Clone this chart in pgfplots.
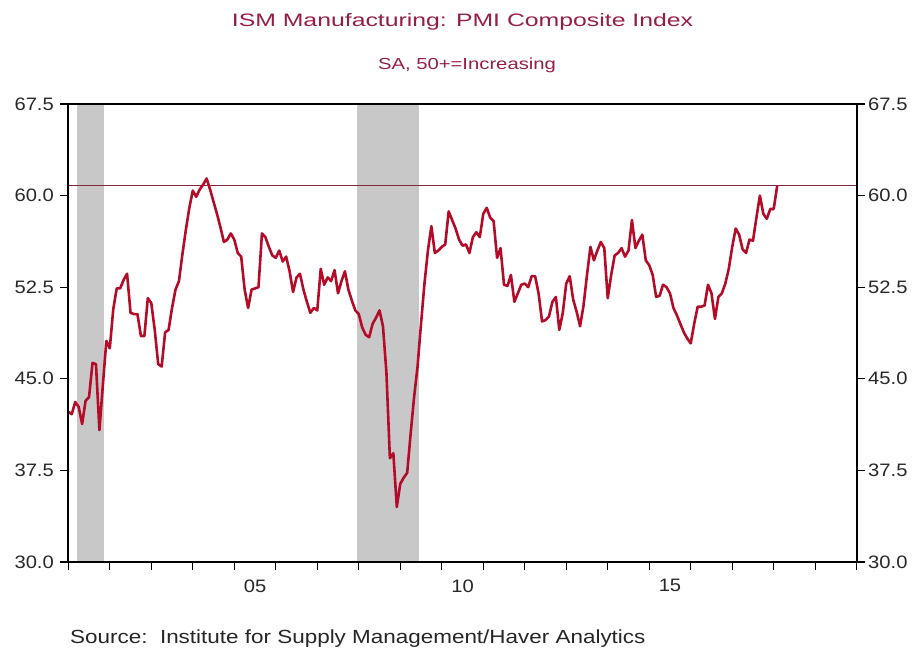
\documentclass[border=0pt]{standalone}
\usepackage{pgfplots}
\pgfplotsset{compat=1.18}
\usepackage{pgfplotstable}
\usepackage{graphicx}
\usepackage{fontspec}
\setmainfont{Liberation Sans}[FakeStretch=1.12]
\definecolor{titlered}{RGB}{150,30,70}
\definecolor{linered}{RGB}{180,12,40}
\definecolor{refline}{RGB}{130,40,60}
\definecolor{recgray}{RGB}{200,200,200}
\definecolor{ticktext}{RGB}{40,40,40}

% ISM PMI, monthly, Jan 2001 - Feb 2018 (x = month index, 0 = Jan 2001)
\pgfplotstableread[row sep=\\]{
v\\
42.3\\42.1\\43.1\\42.7\\41.3\\43.2\\43.5\\46.3\\46.2\\40.8\\44.5\\48.1\\
47.5\\50.7\\52.4\\52.4\\53.1\\53.6\\50.4\\50.3\\50.3\\48.5\\48.5\\51.6\\
51.2\\49.0\\46.2\\46.0\\48.8\\49.0\\50.8\\52.3\\53.0\\55.2\\57.2\\59.0\\
60.4\\59.9\\60.5\\60.9\\61.4\\60.5\\59.5\\58.5\\57.4\\56.2\\56.4\\56.9\\
56.4\\55.3\\55.0\\52.3\\50.8\\52.3\\52.4\\52.5\\56.9\\56.6\\55.8\\55.1\\
54.9\\55.5\\54.6\\55.0\\53.8\\52.1\\53.3\\53.6\\52.3\\51.3\\50.4\\50.8\\
50.6\\54.0\\52.7\\53.3\\53.0\\53.9\\52.0\\53.0\\53.8\\52.3\\51.4\\50.6\\
50.3\\49.2\\48.6\\48.4\\49.5\\50.0\\50.6\\49.3\\45.5\\38.5\\38.9\\34.5\\
36.4\\36.9\\37.3\\40.5\\43.5\\46.0\\49.5\\52.8\\55.5\\57.5\\55.3\\55.5\\
55.8\\56.0\\58.7\\58.0\\57.3\\56.4\\55.9\\56.0\\55.3\\56.6\\57.0\\56.6\\
58.5\\59.0\\58.2\\57.9\\54.9\\55.7\\52.7\\52.6\\53.5\\51.3\\52.0\\52.7\\
52.8\\52.5\\53.4\\53.4\\52.0\\49.7\\49.8\\50.1\\51.3\\51.7\\49.0\\50.4\\
52.8\\53.4\\51.5\\50.5\\49.3\\51.0\\53.5\\55.8\\54.7\\55.5\\56.2\\55.7\\
51.6\\53.5\\55.1\\55.3\\55.7\\55.0\\55.5\\58.0\\55.7\\56.3\\56.8\\54.7\\
54.3\\53.5\\51.7\\51.8\\52.7\\52.5\\52.0\\50.8\\50.2\\49.5\\48.8\\48.3\\
47.9\\49.5\\50.9\\50.9\\51.0\\52.7\\52.0\\49.9\\51.7\\52.0\\52.8\\54.0\\
55.8\\57.3\\56.8\\55.6\\55.3\\56.4\\56.3\\58.2\\60.0\\58.5\\58.1\\58.9\\
58.9\\60.8\\
}\pmi

\pgfplotsset{
  common/.style={
    at={(68.3bp,93bp)}, anchor=south west,
    width=788.4bp, height=458bp, scale only axis,
    xmin=0, xmax=228, ymin=30, ymax=67.5,
    ytick={30,37.5,45,52.5,60,67.5},
    /pgf/number format/assume math mode=true,
    yticklabel style={/pgf/number format/fixed,/pgf/number format/fixed zerofill,/pgf/number format/precision=1},
    tick align=outside,
    major tick length=8bp,
    tick style={line width=1.2bp, black},
    axis line style={line width=1.8bp, black},
    tick label style={font=\fontsize{18bp}{20bp}\selectfont, text=ticktext},
  }
}

\begin{document}
\begin{tikzpicture}[x=1bp,y=1bp]
\useasboundingbox (0,0) rectangle (916,655);
\begin{axis}[common,
  axis on top,
  xtick={0,12,...,228},
  xticklabels={,,,,05,,,,,10,,,,,15,,,,},
  x tick label as interval,
  xtick pos=bottom,
  ytick pos=left,
  xticklabel style={yshift=-6bp},
  yticklabel style={xshift=-3bp},
]
\addplot[fill=recgray, draw=none] coordinates {(2.5,30) (2.5,67.5) (10.3,67.5) (10.3,30)} --cycle;
\addplot[fill=recgray, draw=none] coordinates {(83.5,30) (83.5,67.5) (101.4,67.5) (101.4,30)} --cycle;
\addplot[refline, line width=1bp] coordinates {(0,60.8) (228,60.8)};
\addplot[linered, line width=2.6bp, line join=round] table[x expr=\coordindex, y=v] {\pmi};
\end{axis}
\begin{axis}[common,
  axis x line=none,
  axis y line*=right,
  yticklabel pos=right,
]
\addplot[draw=none] coordinates {(0,30)};
\end{axis}
\node[anchor=base, text=titlered, font=\fontsize{18bp}{20bp}\selectfont] at (462.5,628) {\scalebox{1.23}[1]{ISM Manufacturing: PMI Composite Index}};
\node[anchor=base, text=titlered, font=\fontsize{16bp}{18bp}\selectfont] at (467,585) {\scalebox{1.13}[1]{SA, 50+=Increasing}};
\node[anchor=base west, inner sep=0pt, text=black!85, font=\fontsize{19bp}{21bp}\selectfont] at (70,11) {\scalebox{1.055}[1]{Source:\ \ Institute for Supply Management/Haver Analytics}};
\end{tikzpicture}
\end{document}
